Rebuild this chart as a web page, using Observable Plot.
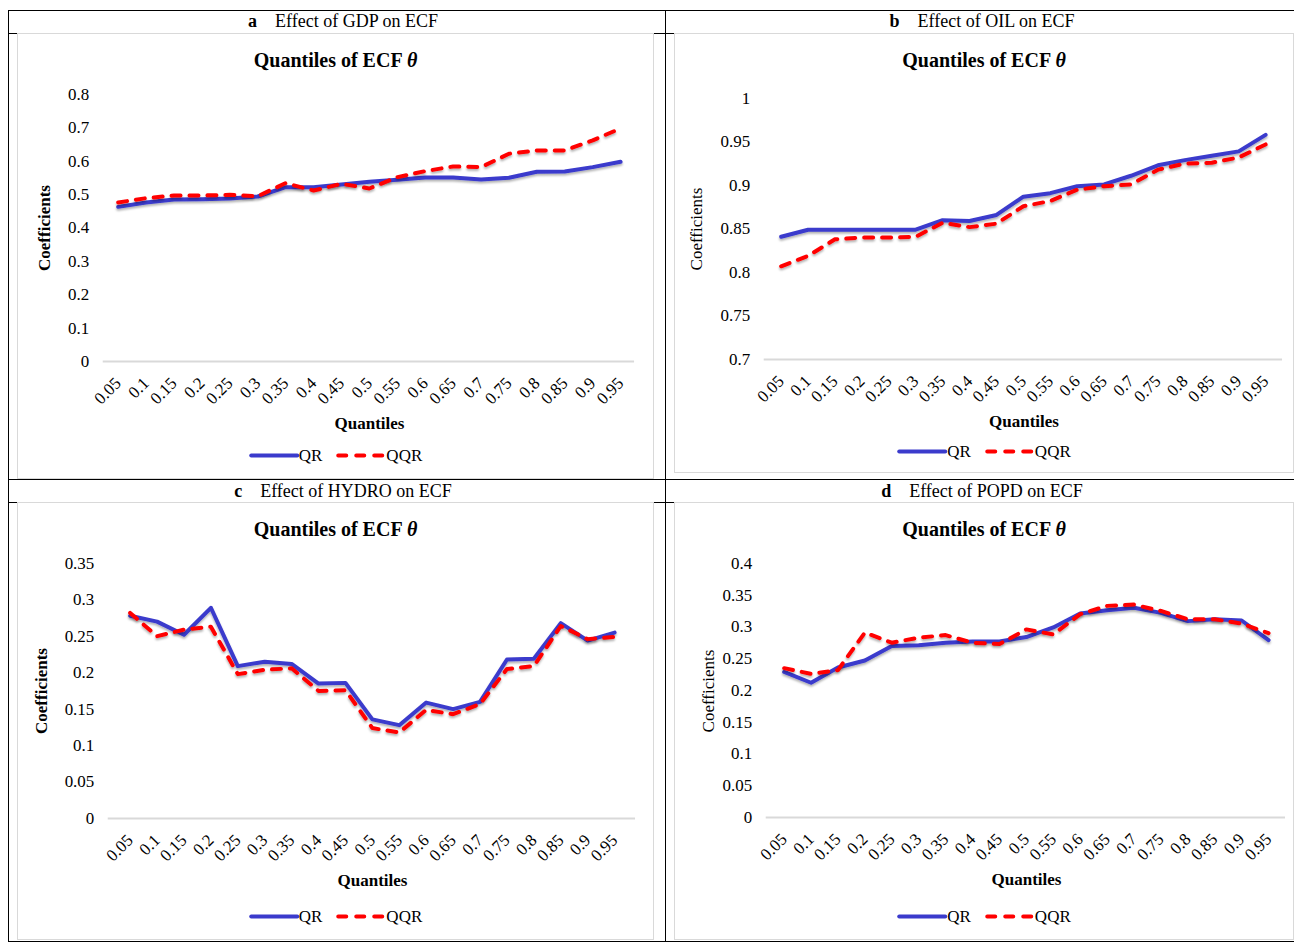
<!DOCTYPE html>
<html><head><meta charset="utf-8">
<script src="https://cdn.jsdelivr.net/npm/d3@7"></script>
<script src="https://cdn.jsdelivr.net/npm/@observablehq/plot@0.6"></script>
<style>
body{margin:0;background:#fff;}
#root{position:relative;width:1294px;height:948px;overflow:hidden;font-family:"Liberation Serif","Times New Roman",serif;color:#000;background:#fff;}
.hline{position:absolute;height:0;border-top:1.4px solid #000;}
.vline{position:absolute;width:0;border-left:1.4px solid #000;}
.box{position:absolute;background:#fff;border:1.5px solid #d9d9d9;box-sizing:border-box;}
.box svg{position:absolute;left:0;top:0;overflow:visible;}
.box svg text{font-family:"Liberation Serif",serif !important;font-size:17px !important;fill:#000;}
.ctr{position:absolute;white-space:nowrap;transform:translate(-50%,-50%);line-height:1;}
.hdr{font-size:18px;}
.ttl{font-size:20px;font-weight:bold;}
.ylab{font-size:17px;transform:translate(-50%,-50%) rotate(-90deg);}
.xlab{font-size:17px;font-weight:bold;}
.leg{display:flex;align-items:center;font-size:17px;}
.leg svg{position:static;}
</style>
</head><body>
<div id="root"></div>
<script>
// ---------- data ----------
const quantiles = ["0.05","0.1","0.15","0.2","0.25","0.3","0.35","0.4","0.45","0.5","0.55","0.6","0.65","0.7","0.75","0.8","0.85","0.9","0.95"];
const seriesNames = ["QR", "QQR"];

const gdpQR   = [0.463,0.476,0.485,0.486,0.488,0.494,0.522,0.522,0.530,0.538,0.544,0.551,0.551,0.545,0.550,0.568,0.569,0.582,0.598];
const gdpQQR  = [0.476,0.489,0.497,0.497,0.499,0.495,0.534,0.512,0.532,0.518,0.552,0.570,0.584,0.582,0.622,0.632,0.632,0.662,0.698];
const oilQR   = [0.841,0.849,0.849,0.849,0.849,0.849,0.860,0.859,0.866,0.887,0.891,0.899,0.901,0.911,0.923,0.929,0.934,0.939,0.958];
const oilQQR  = [0.807,0.819,0.838,0.840,0.840,0.841,0.857,0.852,0.856,0.876,0.882,0.895,0.899,0.901,0.918,0.925,0.926,0.932,0.947];
const hydroQR  = [0.278,0.270,0.252,0.289,0.209,0.215,0.212,0.185,0.186,0.136,0.128,0.159,0.150,0.160,0.218,0.219,0.268,0.244,0.255];
const hydroQQR = [0.282,0.250,0.259,0.263,0.198,0.204,0.206,0.175,0.176,0.124,0.118,0.149,0.143,0.157,0.205,0.209,0.264,0.246,0.249];
const popdQR   = [0.229,0.212,0.236,0.247,0.270,0.271,0.275,0.277,0.277,0.284,0.299,0.321,0.326,0.330,0.322,0.309,0.312,0.310,0.279];
const popdQQR  = [0.235,0.226,0.232,0.291,0.275,0.283,0.287,0.275,0.273,0.296,0.288,0.320,0.333,0.335,0.325,0.312,0.312,0.305,0.290];

const gdpTicks   = [0,0.1,0.2,0.3,0.4,0.5,0.6,0.7,0.8];
const oilTicks   = [0.7,0.75,0.8,0.85,0.9,0.95,1];
const hydroTicks = [0,0.05,0.1,0.15,0.2,0.25,0.3,0.35];
const popdTicks  = [0,0.05,0.1,0.15,0.2,0.25,0.3,0.35,0.4];

const headerLetters = ["a","b","c","d"];
const headerTexts = ["Effect of GDP on ECF","Effect of OIL on ECF","Effect of HYDRO on ECF","Effect of POPD on ECF"];
const chartTitle = "Quantiles of ECF ";
const titleSymbol = "θ";
const xTitle = "Quantiles";
const yTitle = "Coefficients";

const QR_COLOR = "#3b3bcc";
const QQR_COLOR = "#ff0000";
const SERIF = "Liberation Serif";

// ---------- layout ----------
const panels = [
  {qr: gdpQR, qqr: gdpQQR, ticks: gdpTicks, box:{l:17,t:33,w:637,h:446}, m:{l:85,r:19,t:60,b:118}, hdr:{x:343,y:21}, ylab:{x:26,bold:true}, xlabY:389, legY:421},
  {qr: oilQR, qqr: oilQQR, ticks: oilTicks, box:{l:674,t:33,w:620,h:440}, m:{l:89,r:11,t:64,b:114}, hdr:{x:982,y:21}, ylab:{x:21,bold:false}, xlabY:387, legY:417},
  {qr: hydroQR, qqr: hydroQQR, ticks: hydroTicks, box:{l:17,t:502,w:637,h:438}, m:{l:90,r:18,t:60,b:122}, hdr:{x:343,y:491}, ylab:{x:23,bold:true}, xlabY:377, legY:413},
  {qr: popdQR, qqr: popdQQR, ticks: popdTicks, box:{l:674,t:502,w:620,h:438}, m:{l:91,r:8,t:60,b:123}, hdr:{x:982,y:491}, ylab:{x:33,bold:false}, xlabY:376, legY:413}
];

const root = document.getElementById("root");
function el(tag, cls, parent, style) {
  const e = document.createElement(tag);
  if (cls) e.className = cls;
  Object.assign(e.style, style || {});
  (parent || root).appendChild(e);
  return e;
}

// table lines
el("div","hline",root,{left:"8px",top:"10px",width:"1286px"});
el("div","hline",root,{left:"8px",top:"33px",width:"1286px"});
el("div","hline",root,{left:"8px",top:"479px",width:"1286px"});
el("div","hline",root,{left:"8px",top:"502px",width:"1286px"});
el("div","hline",root,{left:"8px",top:"941px",width:"1286px"});
el("div","vline",root,{left:"8px",top:"10px",height:"931px"});
el("div","vline",root,{left:"665px",top:"10px",height:"931px"});

const ns = "http://www.w3.org/2000/svg";

panels.forEach((p, k) => {
  // header
  const h = el("div","ctr hdr",root,{left:p.hdr.x+"px",top:p.hdr.y+"px"});
  const b = document.createElement("b"); b.textContent = headerLetters[k];
  h.appendChild(b);
  h.appendChild(document.createTextNode("\u2003" + headerTexts[k]));

  const box = el("div","box",root,{left:p.box.l+"px",top:p.box.t+"px",width:p.box.w+"px",height:p.box.h+"px"});
  const domain = [p.ticks[0], p.ticks[p.ticks.length-1]];
  const data = quantiles.map((q,i) => ({q, s: seriesNames[0], v: p.qr[i]}));
  const data2 = quantiles.map((q,i) => ({q, s: seriesNames[1], v: p.qqr[i]}));

  const chart = Plot.plot({
    width: p.box.w, height: p.box.h,
    marginLeft: p.m.l, marginRight: p.m.r, marginTop: p.m.t, marginBottom: p.m.b,
    style: {fontFamily: SERIF, fontSize: "17px", color: "#000", background: "transparent", overflow: "visible"},
    x: {type: "point", domain: quantiles, padding: 0.5},
    y: {domain},
    marks: [
      Plot.ruleY([domain[0]], {stroke: "#d9d9d9", strokeWidth: 2}),
      Plot.axisY(p.ticks, {tickSize: 0, tickPadding: 14, tickFormat: d => String(d), label: null, fontSize: 17, fontFamily: SERIF}),
      Plot.axisX(quantiles, {tickSize: 0, tickRotate: -45, tickPadding: 19, label: null, fontSize: 17, fontFamily: SERIF}),
      Plot.line(data, {x: "q", y: "v", stroke: QR_COLOR, strokeWidth: 4, strokeLinejoin: "round", strokeLinecap: "round"}),
      Plot.line(data2, {x: "q", y: "v", stroke: QQR_COLOR, strokeWidth: 4, strokeDasharray: "9,9", strokeLinecap: "round", strokeLinejoin: "round"})
    ]
  });
  // soft shadow under the series lines (Excel-like)
  const defs = document.createElementNS(ns, "defs");
  defs.innerHTML = `<filter id="sh${k}" x="-5%" y="-20%" width="110%" height="160%"><feDropShadow dx="0" dy="2" stdDeviation="1.3" flood-color="#000" flood-opacity="0.3"/></filter>`;
  chart.insertBefore(defs, chart.firstChild);
  chart.querySelectorAll('g[aria-label="line"] path').forEach(pth => pth.setAttribute("filter", `url(#sh${k})`));
  box.appendChild(chart);

  const cx = p.box.w / 2 - 1;
  // title
  const t = el("div","ctr ttl",box,{left:cx+"px",top:"26px"});
  t.appendChild(document.createTextNode(chartTitle));
  const th = document.createElement("i"); th.textContent = titleSymbol; t.appendChild(th);
  // y label
  const plotMidY = p.m.t + (p.box.h - p.m.t - p.m.b) / 2;
  const yl = el("div","ctr ylab",box,{left:p.ylab.x+"px",top:plotMidY+"px",fontWeight:p.ylab.bold?"bold":"normal"});
  yl.textContent = yTitle;
  // x label
  const plotMidX = p.m.l + (p.box.w - p.m.l - p.m.r) / 2;
  const xl = el("div","ctr xlab",box,{left:plotMidX+"px",top:p.xlabY+"px"});
  xl.textContent = xTitle;
  // legend
  const lg = el("div","ctr leg",box,{left:cx+"px",top:p.legY+"px"});
  [[QR_COLOR,null,seriesNames[0]],[QQR_COLOR,"9,9",seriesNames[1]]].forEach(([c,dash,name],j) => {
    const s = document.createElementNS(ns,"svg");
    s.setAttribute("width","50"); s.setAttribute("height","10");
    s.style.marginLeft = j ? "14px" : "0";
    const ln = document.createElementNS(ns,"line");
    ln.setAttribute("x1","2"); ln.setAttribute("x2","48"); ln.setAttribute("y1","5"); ln.setAttribute("y2","5");
    ln.setAttribute("stroke",c); ln.setAttribute("stroke-width","4"); ln.setAttribute("stroke-linecap","round");
    if (dash) ln.setAttribute("stroke-dasharray","8,10");
    s.appendChild(ln); lg.appendChild(s);
    const sp = document.createElement("span"); sp.textContent = name; lg.appendChild(sp);
  });
});
</script>
</body></html>
